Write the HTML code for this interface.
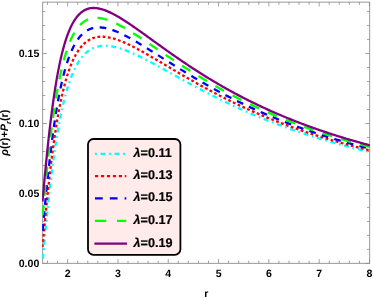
<!DOCTYPE html>
<html><head><meta charset="utf-8"><style>
html,body{margin:0;padding:0;background:#fff;}
svg{display:block;will-change:transform;font-family:"Liberation Sans",sans-serif;font-weight:bold;font-size:10.6px;fill:#000;text-rendering:geometricPrecision;}
</style></head><body>
<svg width="373" height="298" viewBox="0 0 373 298">
<rect width="373" height="298" fill="#fff"/>
<defs><clipPath id="cp"><rect x="42.15" y="1.65" width="327.8" height="262.20000000000005"/></clipPath></defs>
<rect x="88" y="139" width="92.4" height="115.8" rx="5.5" ry="5.5" fill="#ffebea" stroke="#000" stroke-width="1.8"/>
<path d="M95 153.8 H126.3" stroke="#00ffff" stroke-width="2.3" fill="none" stroke-dasharray="1.8 3.65 5 3.65"/>
<text transform="translate(133.5,156.7)" font-size="12.65" stroke="#000" stroke-width="0.2"><tspan font-style="italic">λ</tspan>=0.11</text>
<path d="M95 176.1 H126.3" stroke="#ff0000" stroke-width="2.3" fill="none" stroke-dasharray="3.2 2.75"/>
<text transform="translate(133.5,179.0)" font-size="12.65" stroke="#000" stroke-width="0.2"><tspan font-style="italic">λ</tspan>=0.13</text>
<path d="M95 198.3 H126.3" stroke="#0000ff" stroke-width="2.3" fill="none" stroke-dasharray="7.75 7.05"/>
<text transform="translate(133.5,201.2)" font-size="12.65" stroke="#000" stroke-width="0.2"><tspan font-style="italic">λ</tspan>=0.15</text>
<path d="M95 220.8 H126.3" stroke="#00ff00" stroke-width="2.3" fill="none" stroke-dasharray="11.3 10.7"/>
<text transform="translate(133.5,223.7)" font-size="12.65" stroke="#000" stroke-width="0.2"><tspan font-style="italic">λ</tspan>=0.17</text>
<path d="M94.4 243.6 H127" stroke="#800080" stroke-width="2.3" fill="none"/>
<text transform="translate(133.5,246.5)" font-size="12.65" stroke="#000" stroke-width="0.2"><tspan font-style="italic">λ</tspan>=0.19</text>
<g stroke="#989898" stroke-width="1" fill="none">
<rect x="42.65" y="2.15" width="327.0" height="261.20000000000005"/>
<g stroke-width="0.8" stroke="#8c8c8c">
<path d="M47.50 263.35 v-2.7 M47.50 2.15 v2.7"/>
<path d="M57.56 263.35 v-2.7 M57.56 2.15 v2.7"/>
<path d="M67.62 263.35 v-4.3 M67.62 2.15 v4.3"/>
<path d="M77.69 263.35 v-2.7 M77.69 2.15 v2.7"/>
<path d="M87.75 263.35 v-2.7 M87.75 2.15 v2.7"/>
<path d="M97.81 263.35 v-2.7 M97.81 2.15 v2.7"/>
<path d="M107.87 263.35 v-2.7 M107.87 2.15 v2.7"/>
<path d="M117.94 263.35 v-4.3 M117.94 2.15 v4.3"/>
<path d="M128.00 263.35 v-2.7 M128.00 2.15 v2.7"/>
<path d="M138.06 263.35 v-2.7 M138.06 2.15 v2.7"/>
<path d="M148.12 263.35 v-2.7 M148.12 2.15 v2.7"/>
<path d="M158.18 263.35 v-2.7 M158.18 2.15 v2.7"/>
<path d="M168.25 263.35 v-4.3 M168.25 2.15 v4.3"/>
<path d="M178.31 263.35 v-2.7 M178.31 2.15 v2.7"/>
<path d="M188.37 263.35 v-2.7 M188.37 2.15 v2.7"/>
<path d="M198.43 263.35 v-2.7 M198.43 2.15 v2.7"/>
<path d="M208.49 263.35 v-2.7 M208.49 2.15 v2.7"/>
<path d="M218.56 263.35 v-4.3 M218.56 2.15 v4.3"/>
<path d="M228.62 263.35 v-2.7 M228.62 2.15 v2.7"/>
<path d="M238.68 263.35 v-2.7 M238.68 2.15 v2.7"/>
<path d="M248.74 263.35 v-2.7 M248.74 2.15 v2.7"/>
<path d="M258.80 263.35 v-2.7 M258.80 2.15 v2.7"/>
<path d="M268.87 263.35 v-4.3 M268.87 2.15 v4.3"/>
<path d="M278.93 263.35 v-2.7 M278.93 2.15 v2.7"/>
<path d="M288.99 263.35 v-2.7 M288.99 2.15 v2.7"/>
<path d="M299.05 263.35 v-2.7 M299.05 2.15 v2.7"/>
<path d="M309.11 263.35 v-2.7 M309.11 2.15 v2.7"/>
<path d="M319.18 263.35 v-4.3 M319.18 2.15 v4.3"/>
<path d="M329.24 263.35 v-2.7 M329.24 2.15 v2.7"/>
<path d="M339.30 263.35 v-2.7 M339.30 2.15 v2.7"/>
<path d="M349.36 263.35 v-2.7 M349.36 2.15 v2.7"/>
<path d="M359.42 263.35 v-2.7 M359.42 2.15 v2.7"/>
<path d="M369.49 263.35 v-4.3 M369.49 2.15 v4.3"/>
<path d="M42.65 263.40 h4.3 M369.65 263.40 h-4.3"/>
<path d="M42.65 249.41 h2.7 M369.65 249.41 h-2.7"/>
<path d="M42.65 235.42 h2.7 M369.65 235.42 h-2.7"/>
<path d="M42.65 221.43 h2.7 M369.65 221.43 h-2.7"/>
<path d="M42.65 207.44 h2.7 M369.65 207.44 h-2.7"/>
<path d="M42.65 193.45 h4.3 M369.65 193.45 h-4.3"/>
<path d="M42.65 179.46 h2.7 M369.65 179.46 h-2.7"/>
<path d="M42.65 165.47 h2.7 M369.65 165.47 h-2.7"/>
<path d="M42.65 151.48 h2.7 M369.65 151.48 h-2.7"/>
<path d="M42.65 137.49 h2.7 M369.65 137.49 h-2.7"/>
<path d="M42.65 123.50 h4.3 M369.65 123.50 h-4.3"/>
<path d="M42.65 109.51 h2.7 M369.65 109.51 h-2.7"/>
<path d="M42.65 95.52 h2.7 M369.65 95.52 h-2.7"/>
<path d="M42.65 81.53 h2.7 M369.65 81.53 h-2.7"/>
<path d="M42.65 67.54 h2.7 M369.65 67.54 h-2.7"/>
<path d="M42.65 53.55 h4.3 M369.65 53.55 h-4.3"/>
<path d="M42.65 39.56 h2.7 M369.65 39.56 h-2.7"/>
<path d="M42.65 25.57 h2.7 M369.65 25.57 h-2.7"/>
<path d="M42.65 11.58 h2.7 M369.65 11.58 h-2.7"/>
</g></g>
<text x="67.6" y="277" text-anchor="middle">2</text><text x="117.9" y="277" text-anchor="middle">3</text><text x="168.2" y="277" text-anchor="middle">4</text><text x="218.6" y="277" text-anchor="middle">5</text><text x="268.9" y="277" text-anchor="middle">6</text><text x="319.2" y="277" text-anchor="middle">7</text><text x="369.5" y="277" text-anchor="middle">8</text>
<text x="39.3" y="267.1" text-anchor="end">0.00</text><text x="39.3" y="197.2" text-anchor="end">0.05</text><text x="39.3" y="127.2" text-anchor="end">0.10</text><text x="39.3" y="57.3" text-anchor="end">0.15</text>
<g clip-path="url(#cp)">
<path d="M42.50 262.09 L42.64 260.58 L42.78 259.06 L42.92 257.55 L43.07 256.04 L43.21 254.54 L43.35 253.03 L43.49 251.53 L43.63 250.03 L43.77 248.53 L43.91 247.03 L44.05 245.54 L44.20 244.05 L44.34 242.57 L44.48 241.09 L44.62 239.61 L44.76 238.14 L44.90 236.67 L45.04 235.21 L45.18 233.75 L45.33 232.30 L45.47 230.85 L45.61 229.40 L45.75 227.97 L45.89 226.53 L46.03 225.11 L46.17 223.69 L46.31 222.27 L46.46 220.86 L46.60 219.46 L46.74 218.06 L46.88 216.67 L47.02 215.29 L47.16 213.91 L47.30 212.54 L47.44 211.18 L47.59 209.82 L47.73 208.47 L47.87 207.13 L48.01 205.79 L48.15 204.46 L48.29 203.14 L48.43 201.83 L48.58 200.52 L48.72 199.22 L48.86 197.93 L49.00 196.64 L49.14 195.36 L49.28 194.09 L49.42 192.83 L49.56 191.57 L49.71 190.32 L49.85 189.08 L49.99 187.85 L50.13 186.62 L50.27 185.41 L50.41 184.20 L50.55 182.99 L50.69 181.80 L50.84 180.61 L50.98 179.43 L51.12 178.26 L51.26 177.09 L51.40 175.94 L51.54 174.79 L51.68 173.64 L51.82 172.51 L51.97 171.38 L52.11 170.26 L52.25 169.15 L52.39 168.05 L52.53 166.95 L52.67 165.86 L52.81 164.78 L52.96 163.71 L53.10 162.64 L53.24 161.58 L53.38 160.53 L53.52 159.49 L53.66 158.45 L53.80 157.43 L53.94 156.40 L54.09 155.39 L54.23 154.38 L54.37 153.38 L54.51 152.39 L54.65 151.41 L54.79 150.43 L54.93 149.46 L55.07 148.50 L55.22 147.54 L55.36 146.59 L55.50 145.65 L55.64 144.72 L55.78 143.79 L55.92 142.87 L56.06 141.96 L56.20 141.05 L56.35 140.15 L56.49 139.26 L56.63 138.37 L56.77 137.49 L56.91 136.62 L57.05 135.76 L57.19 134.90 L57.33 134.05 L57.48 133.20 L57.62 132.36 L57.76 131.53 L57.90 130.71 L58.04 129.89 L58.18 129.07 L58.32 128.27 L58.47 127.47 L58.61 126.67 L58.75 125.89 L58.89 125.11 L59.03 124.33 L59.17 123.56 L59.31 122.80 L59.45 122.05 L59.60 121.30 L59.74 120.55 L59.88 119.82 L60.02 119.08 L60.16 118.36 L60.30 117.64 L60.44 116.92 L60.58 116.22 L60.73 115.51 L60.87 114.82 L61.01 114.13 L61.15 113.44 L61.29 112.76 L61.43 112.09 L61.57 111.42 L61.71 110.76 L61.86 110.10 L62.00 109.45 L62.14 108.80 L62.28 108.16 L62.42 107.52 L62.56 106.89 L62.70 106.27 L62.85 105.65 L62.99 105.03 L63.13 104.42 L63.27 103.82 L63.41 103.22 L63.55 102.62 L63.69 102.04 L63.83 101.45 L63.98 100.87 L64.12 100.30 L64.26 99.73 L64.40 99.16 L64.54 98.60 L64.68 98.05 L64.82 97.50 L64.96 96.95 L65.11 96.41 L65.25 95.87 L65.39 95.34 L65.53 94.82 L65.67 94.29 L65.81 93.78 L65.95 93.26 L66.09 92.75 L66.24 92.25 L66.38 91.75 L66.52 91.25 L66.66 90.76 L66.80 90.27 L66.94 89.79 L67.08 89.31 L67.22 88.84 L67.37 88.36 L67.51 87.90 L67.65 87.44 L67.79 86.98 L67.93 86.52 L68.07 86.07 L68.21 85.63 L68.36 85.18 L68.50 84.74 L68.64 84.31 L68.78 83.88 L68.92 83.45 L69.06 83.03 L69.20 82.61 L69.34 82.19 L69.49 81.78 L69.63 81.37 L69.77 80.97 L69.91 80.57 L70.05 80.17 L70.19 79.78 L70.33 79.39 L70.47 79.00 L70.62 78.62 L70.76 78.24 L70.90 77.86 L71.04 77.49 L71.18 77.12 L71.32 76.75 L71.46 76.39 L71.60 76.03 L71.75 75.67 L71.89 75.32 L72.03 74.97 L72.17 74.62 L72.31 74.28 L72.45 73.94 L72.59 73.60 L72.74 73.27 L72.88 72.93 L73.02 72.61 L73.16 72.28 L73.30 71.96 L73.44 71.64 L73.58 71.32 L73.72 71.01 L73.87 70.70 L74.01 70.39 L74.15 70.09 L74.29 69.79 L74.43 69.49 L74.57 69.19 L74.71 68.90 L74.85 68.61 L75.00 68.32 L75.14 68.04 L75.28 67.75 L75.42 67.47 L75.56 67.20 L75.70 66.92 L75.84 66.65 L75.98 66.38 L76.13 66.12 L76.27 65.85 L76.41 65.59 L76.55 65.33 L76.69 65.08 L76.83 64.82 L76.97 64.57 L77.11 64.32 L77.26 64.07 L77.40 63.83 L77.54 63.59 L77.68 63.35 L78.85 61.45 L80.03 59.70 L81.20 58.09 L82.38 56.62 L83.55 55.27 L84.72 54.04 L85.90 52.92 L87.07 51.91 L88.25 50.99 L89.42 50.17 L90.59 49.43 L91.77 48.77 L92.94 48.19 L94.12 47.68 L95.29 47.24 L96.46 46.86 L97.64 46.54 L98.81 46.28 L99.99 46.07 L101.16 45.91 L102.33 45.80 L103.51 45.74 L104.68 45.71 L105.86 45.73 L107.03 45.79 L108.20 45.88 L109.38 46.00 L110.55 46.16 L111.73 46.35 L112.90 46.56 L114.07 46.80 L115.25 47.07 L116.42 47.36 L117.60 47.68 L118.77 48.01 L119.94 48.37 L121.12 48.75 L122.29 49.14 L123.47 49.55 L124.64 49.98 L125.81 50.42 L126.99 50.88 L128.16 51.35 L129.33 51.84 L130.51 52.34 L131.68 52.85 L132.86 53.37 L134.03 53.90 L135.20 54.43 L136.38 54.98 L137.55 55.54 L138.73 56.11 L139.90 56.68 L141.07 57.26 L142.25 57.85 L143.42 58.44 L144.60 59.04 L145.77 59.64 L146.94 60.25 L148.12 60.87 L149.29 61.48 L150.47 62.11 L151.64 62.73 L152.81 63.36 L153.99 63.99 L155.16 64.63 L156.34 65.27 L157.51 65.91 L158.68 66.55 L159.86 67.19 L161.03 67.84 L162.21 68.49 L163.38 69.13 L164.55 69.78 L165.73 70.43 L166.90 71.09 L168.08 71.74 L169.25 72.39 L170.42 73.04 L171.60 73.69 L172.77 74.34 L173.95 75.00 L175.12 75.65 L176.29 76.30 L177.47 76.95 L178.64 77.60 L179.82 78.24 L180.99 78.89 L182.16 79.54 L183.34 80.18 L184.51 80.83 L185.69 81.47 L186.86 82.11 L188.03 82.75 L189.21 83.39 L190.38 84.02 L191.56 84.66 L192.73 85.29 L193.90 85.92 L195.08 86.55 L196.25 87.18 L197.43 87.80 L198.60 88.43 L199.77 89.05 L200.95 89.67 L202.12 90.28 L203.30 90.90 L204.47 91.51 L205.64 92.12 L206.82 92.72 L207.99 93.33 L209.17 93.93 L210.34 94.53 L211.51 95.13 L212.69 95.72 L213.86 96.31 L215.04 96.90 L216.21 97.49 L217.38 98.08 L218.56 98.66 L219.73 99.24 L220.91 99.81 L222.08 100.39 L223.25 100.96 L224.43 101.52 L225.60 102.09 L226.77 102.65 L227.95 103.21 L229.12 103.77 L230.30 104.32 L231.47 104.87 L232.64 105.42 L233.82 105.97 L234.99 106.51 L236.17 107.05 L237.34 107.59 L238.51 108.12 L239.69 108.66 L240.86 109.18 L242.04 109.71 L243.21 110.23 L244.38 110.75 L245.56 111.27 L246.73 111.79 L247.91 112.30 L249.08 112.81 L250.25 113.31 L251.43 113.82 L252.60 114.32 L253.78 114.82 L254.95 115.31 L256.12 115.80 L257.30 116.29 L258.47 116.78 L259.65 117.27 L260.82 117.75 L261.99 118.23 L263.17 118.70 L264.34 119.17 L265.52 119.65 L266.69 120.11 L267.86 120.58 L269.04 121.04 L270.21 121.50 L271.39 121.96 L272.56 122.41 L273.73 122.86 L274.91 123.31 L276.08 123.76 L277.26 124.20 L278.43 124.64 L279.60 125.08 L280.78 125.52 L281.95 125.95 L283.13 126.38 L284.30 126.81 L285.47 127.24 L286.65 127.66 L287.82 128.08 L289.00 128.50 L290.17 128.92 L291.34 129.33 L292.52 129.74 L293.69 130.15 L294.87 130.55 L296.04 130.96 L297.21 131.36 L298.39 131.76 L299.56 132.15 L300.74 132.55 L301.91 132.94 L303.08 133.33 L304.26 133.71 L305.43 134.10 L306.61 134.48 L307.78 134.86 L308.95 135.24 L310.13 135.61 L311.30 135.99 L312.48 136.36 L313.65 136.73 L314.82 137.09 L316.00 137.46 L317.17 137.82 L318.35 138.18 L319.52 138.54 L320.69 138.89 L321.87 139.24 L323.04 139.60 L324.21 139.94 L325.39 140.29 L326.56 140.64 L327.74 140.98 L328.91 141.32 L330.08 141.66 L331.26 141.99 L332.43 142.33 L333.61 142.66 L334.78 142.99 L335.95 143.32 L337.13 143.65 L338.30 143.97 L339.48 144.29 L340.65 144.61 L341.82 144.93 L343.00 145.25 L344.17 145.56 L345.35 145.88 L346.52 146.19 L347.69 146.50 L348.87 146.81 L350.04 147.11 L351.22 147.41 L352.39 147.72 L353.56 148.02 L354.74 148.31 L355.91 148.61 L357.09 148.91 L358.26 149.20 L359.43 149.49 L360.61 149.78 L361.78 150.07 L362.96 150.35 L364.13 150.64 L365.30 150.92 L366.48 151.20 L367.65 151.48 L368.83 151.76 L370.00 152.03" fill="none" stroke="#00ffff" stroke-width="2.3" stroke-dasharray="5 3.705 1.7 3.705" stroke-dashoffset="-3.52"/>
<path d="M42.50 246.98 L42.64 245.44 L42.78 243.91 L42.92 242.38 L43.07 240.85 L43.21 239.33 L43.35 237.80 L43.49 236.29 L43.63 234.77 L43.77 233.26 L43.91 231.75 L44.05 230.24 L44.20 228.74 L44.34 227.25 L44.48 225.75 L44.62 224.27 L44.76 222.79 L44.90 221.31 L45.04 219.84 L45.18 218.37 L45.33 216.91 L45.47 215.46 L45.61 214.01 L45.75 212.57 L45.89 211.13 L46.03 209.70 L46.17 208.27 L46.31 206.86 L46.46 205.45 L46.60 204.04 L46.74 202.64 L46.88 201.25 L47.02 199.87 L47.16 198.49 L47.30 197.12 L47.44 195.76 L47.59 194.41 L47.73 193.06 L47.87 191.72 L48.01 190.39 L48.15 189.06 L48.29 187.74 L48.43 186.43 L48.58 185.13 L48.72 183.83 L48.86 182.55 L49.00 181.27 L49.14 180.00 L49.28 178.73 L49.42 177.47 L49.56 176.23 L49.71 174.99 L49.85 173.75 L49.99 172.53 L50.13 171.31 L50.27 170.10 L50.41 168.90 L50.55 167.71 L50.69 166.52 L50.84 165.34 L50.98 164.17 L51.12 163.01 L51.26 161.86 L51.40 160.71 L51.54 159.57 L51.68 158.44 L51.82 157.32 L51.97 156.20 L52.11 155.10 L52.25 154.00 L52.39 152.91 L52.53 151.82 L52.67 150.75 L52.81 149.68 L52.96 148.62 L53.10 147.57 L53.24 146.52 L53.38 145.48 L53.52 144.45 L53.66 143.43 L53.80 142.42 L53.94 141.41 L54.09 140.41 L54.23 139.42 L54.37 138.44 L54.51 137.46 L54.65 136.49 L54.79 135.53 L54.93 134.57 L55.07 133.63 L55.22 132.69 L55.36 131.75 L55.50 130.83 L55.64 129.91 L55.78 129.00 L55.92 128.10 L56.06 127.20 L56.20 126.31 L56.35 125.43 L56.49 124.55 L56.63 123.68 L56.77 122.82 L56.91 121.97 L57.05 121.12 L57.19 120.28 L57.33 119.44 L57.48 118.61 L57.62 117.79 L57.76 116.98 L57.90 116.17 L58.04 115.37 L58.18 114.58 L58.32 113.79 L58.47 113.01 L58.61 112.23 L58.75 111.46 L58.89 110.70 L59.03 109.94 L59.17 109.19 L59.31 108.45 L59.45 107.71 L59.60 106.98 L59.74 106.26 L59.88 105.54 L60.02 104.82 L60.16 104.12 L60.30 103.42 L60.44 102.72 L60.58 102.03 L60.73 101.35 L60.87 100.67 L61.01 100.00 L61.15 99.33 L61.29 98.67 L61.43 98.02 L61.57 97.37 L61.71 96.72 L61.86 96.09 L62.00 95.45 L62.14 94.83 L62.28 94.20 L62.42 93.59 L62.56 92.98 L62.70 92.37 L62.85 91.77 L62.99 91.17 L63.13 90.58 L63.27 90.00 L63.41 89.42 L63.55 88.84 L63.69 88.27 L63.83 87.71 L63.98 87.15 L64.12 86.60 L64.26 86.05 L64.40 85.50 L64.54 84.96 L64.68 84.42 L64.82 83.89 L64.96 83.37 L65.11 82.85 L65.25 82.33 L65.39 81.82 L65.53 81.31 L65.67 80.81 L65.81 80.31 L65.95 79.81 L66.09 79.33 L66.24 78.84 L66.38 78.36 L66.52 77.88 L66.66 77.41 L66.80 76.94 L66.94 76.48 L67.08 76.02 L67.22 75.57 L67.37 75.11 L67.51 74.67 L67.65 74.22 L67.79 73.79 L67.93 73.35 L68.07 72.92 L68.21 72.49 L68.36 72.07 L68.50 71.65 L68.64 71.24 L68.78 70.83 L68.92 70.42 L69.06 70.01 L69.20 69.61 L69.34 69.22 L69.49 68.83 L69.63 68.44 L69.77 68.05 L69.91 67.67 L70.05 67.29 L70.19 66.92 L70.33 66.55 L70.47 66.18 L70.62 65.81 L70.76 65.45 L70.90 65.10 L71.04 64.74 L71.18 64.39 L71.32 64.05 L71.46 63.70 L71.60 63.36 L71.75 63.02 L71.89 62.69 L72.03 62.36 L72.17 62.03 L72.31 61.71 L72.45 61.39 L72.59 61.07 L72.74 60.75 L72.88 60.44 L73.02 60.13 L73.16 59.83 L73.30 59.52 L73.44 59.22 L73.58 58.93 L73.72 58.63 L73.87 58.34 L74.01 58.05 L74.15 57.77 L74.29 57.48 L74.43 57.20 L74.57 56.93 L74.71 56.65 L74.85 56.38 L75.00 56.11 L75.14 55.85 L75.28 55.58 L75.42 55.32 L75.56 55.06 L75.70 54.81 L75.84 54.56 L75.98 54.30 L76.13 54.06 L76.27 53.81 L76.41 53.57 L76.55 53.33 L76.69 53.09 L76.83 52.85 L76.97 52.62 L77.11 52.39 L77.26 52.16 L77.40 51.94 L77.54 51.71 L77.68 51.49 L78.85 49.74 L80.03 48.14 L81.20 46.68 L82.38 45.36 L83.55 44.15 L84.72 43.06 L85.90 42.09 L87.07 41.21 L88.25 40.43 L89.42 39.73 L90.59 39.12 L91.77 38.59 L92.94 38.14 L94.12 37.75 L95.29 37.44 L96.46 37.18 L97.64 36.98 L98.81 36.83 L99.99 36.74 L101.16 36.70 L102.33 36.70 L103.51 36.74 L104.68 36.83 L105.86 36.95 L107.03 37.11 L108.20 37.30 L109.38 37.52 L110.55 37.78 L111.73 38.06 L112.90 38.37 L114.07 38.71 L115.25 39.07 L116.42 39.45 L117.60 39.86 L118.77 40.28 L119.94 40.72 L121.12 41.19 L122.29 41.66 L123.47 42.16 L124.64 42.67 L125.81 43.19 L126.99 43.72 L128.16 44.27 L129.33 44.83 L130.51 45.41 L131.68 45.99 L132.86 46.58 L134.03 47.18 L135.20 47.79 L136.38 48.41 L137.55 49.03 L138.73 49.66 L139.90 50.30 L141.07 50.95 L142.25 51.59 L143.42 52.25 L144.60 52.91 L145.77 53.57 L146.94 54.24 L148.12 54.92 L149.29 55.59 L150.47 56.27 L151.64 56.95 L152.81 57.64 L153.99 58.32 L155.16 59.01 L156.34 59.70 L157.51 60.39 L158.68 61.09 L159.86 61.78 L161.03 62.48 L162.21 63.17 L163.38 63.87 L164.55 64.56 L165.73 65.26 L166.90 65.96 L168.08 66.65 L169.25 67.35 L170.42 68.05 L171.60 68.74 L172.77 69.44 L173.95 70.13 L175.12 70.82 L176.29 71.51 L177.47 72.20 L178.64 72.89 L179.82 73.58 L180.99 74.27 L182.16 74.95 L183.34 75.63 L184.51 76.32 L185.69 76.99 L186.86 77.67 L188.03 78.35 L189.21 79.02 L190.38 79.69 L191.56 80.36 L192.73 81.03 L193.90 81.69 L195.08 82.35 L196.25 83.01 L197.43 83.67 L198.60 84.33 L199.77 84.98 L200.95 85.63 L202.12 86.27 L203.30 86.92 L204.47 87.56 L205.64 88.20 L206.82 88.84 L207.99 89.47 L209.17 90.10 L210.34 90.73 L211.51 91.35 L212.69 91.97 L213.86 92.59 L215.04 93.21 L216.21 93.82 L217.38 94.43 L218.56 95.04 L219.73 95.65 L220.91 96.25 L222.08 96.85 L223.25 97.44 L224.43 98.03 L225.60 98.62 L226.77 99.21 L227.95 99.79 L229.12 100.37 L230.30 100.95 L231.47 101.53 L232.64 102.10 L233.82 102.67 L234.99 103.23 L236.17 103.79 L237.34 104.35 L238.51 104.91 L239.69 105.46 L240.86 106.01 L242.04 106.56 L243.21 107.10 L244.38 107.64 L245.56 108.18 L246.73 108.72 L247.91 109.25 L249.08 109.78 L250.25 110.30 L251.43 110.83 L252.60 111.35 L253.78 111.86 L254.95 112.38 L256.12 112.89 L257.30 113.40 L258.47 113.90 L259.65 114.40 L260.82 114.90 L261.99 115.40 L263.17 115.89 L264.34 116.38 L265.52 116.87 L266.69 117.36 L267.86 117.84 L269.04 118.32 L270.21 118.79 L271.39 119.27 L272.56 119.74 L273.73 120.21 L274.91 120.67 L276.08 121.13 L277.26 121.59 L278.43 122.05 L279.60 122.51 L280.78 122.96 L281.95 123.41 L283.13 123.85 L284.30 124.30 L285.47 124.74 L286.65 125.17 L287.82 125.61 L289.00 126.04 L290.17 126.47 L291.34 126.90 L292.52 127.32 L293.69 127.75 L294.87 128.17 L296.04 128.58 L297.21 129.00 L298.39 129.41 L299.56 129.82 L300.74 130.23 L301.91 130.63 L303.08 131.04 L304.26 131.44 L305.43 131.83 L306.61 132.23 L307.78 132.62 L308.95 133.01 L310.13 133.40 L311.30 133.79 L312.48 134.17 L313.65 134.55 L314.82 134.93 L316.00 135.30 L317.17 135.68 L318.35 136.05 L319.52 136.42 L320.69 136.79 L321.87 137.15 L323.04 137.52 L324.21 137.88 L325.39 138.23 L326.56 138.59 L327.74 138.94 L328.91 139.30 L330.08 139.65 L331.26 139.99 L332.43 140.34 L333.61 140.68 L334.78 141.02 L335.95 141.36 L337.13 141.70 L338.30 142.04 L339.48 142.37 L340.65 142.70 L341.82 143.03 L343.00 143.36 L344.17 143.68 L345.35 144.01 L346.52 144.33 L347.69 144.65 L348.87 144.96 L350.04 145.28 L351.22 145.59 L352.39 145.90 L353.56 146.21 L354.74 146.52 L355.91 146.83 L357.09 147.13 L358.26 147.44 L359.43 147.74 L360.61 148.04 L361.78 148.33 L362.96 148.63 L364.13 148.92 L365.30 149.21 L366.48 149.50 L367.65 149.79 L368.83 150.08 L370.00 150.36" fill="none" stroke="#ff0000" stroke-width="2.3" stroke-dasharray="2.8 2.436" stroke-dashoffset="0.1"/>
<path d="M42.50 231.87 L42.64 230.31 L42.78 228.76 L42.92 227.21 L43.07 225.66 L43.21 224.12 L43.35 222.58 L43.49 221.04 L43.63 219.51 L43.77 217.98 L43.91 216.46 L44.05 214.94 L44.20 213.43 L44.34 211.92 L44.48 210.42 L44.62 208.92 L44.76 207.43 L44.90 205.95 L45.04 204.47 L45.18 202.99 L45.33 201.53 L45.47 200.07 L45.61 198.61 L45.75 197.16 L45.89 195.72 L46.03 194.29 L46.17 192.86 L46.31 191.44 L46.46 190.03 L46.60 188.62 L46.74 187.23 L46.88 185.83 L47.02 184.45 L47.16 183.07 L47.30 181.71 L47.44 180.35 L47.59 178.99 L47.73 177.65 L47.87 176.31 L48.01 174.98 L48.15 173.66 L48.29 172.34 L48.43 171.04 L48.58 169.74 L48.72 168.45 L48.86 167.17 L49.00 165.89 L49.14 164.63 L49.28 163.37 L49.42 162.12 L49.56 160.88 L49.71 159.65 L49.85 158.42 L49.99 157.20 L50.13 155.99 L50.27 154.79 L50.41 153.60 L50.55 152.42 L50.69 151.24 L50.84 150.07 L50.98 148.91 L51.12 147.76 L51.26 146.62 L51.40 145.48 L51.54 144.36 L51.68 143.24 L51.82 142.13 L51.97 141.02 L52.11 139.93 L52.25 138.84 L52.39 137.76 L52.53 136.69 L52.67 135.63 L52.81 134.57 L52.96 133.53 L53.10 132.49 L53.24 131.46 L53.38 130.43 L53.52 129.42 L53.66 128.41 L53.80 127.41 L53.94 126.42 L54.09 125.43 L54.23 124.46 L54.37 123.49 L54.51 122.53 L54.65 121.57 L54.79 120.63 L54.93 119.69 L55.07 118.76 L55.22 117.83 L55.36 116.92 L55.50 116.01 L55.64 115.10 L55.78 114.21 L55.92 113.32 L56.06 112.44 L56.20 111.57 L56.35 110.70 L56.49 109.84 L56.63 108.99 L56.77 108.15 L56.91 107.31 L57.05 106.48 L57.19 105.66 L57.33 104.84 L57.48 104.03 L57.62 103.22 L57.76 102.43 L57.90 101.64 L58.04 100.85 L58.18 100.08 L58.32 99.31 L58.47 98.54 L58.61 97.79 L58.75 97.04 L58.89 96.29 L59.03 95.55 L59.17 94.82 L59.31 94.10 L59.45 93.38 L59.60 92.67 L59.74 91.96 L59.88 91.26 L60.02 90.56 L60.16 89.88 L60.30 89.19 L60.44 88.52 L60.58 87.85 L60.73 87.18 L60.87 86.52 L61.01 85.87 L61.15 85.22 L61.29 84.58 L61.43 83.95 L61.57 83.32 L61.71 82.69 L61.86 82.07 L62.00 81.46 L62.14 80.85 L62.28 80.25 L62.42 79.65 L62.56 79.06 L62.70 78.47 L62.85 77.89 L62.99 77.32 L63.13 76.75 L63.27 76.18 L63.41 75.62 L63.55 75.06 L63.69 74.51 L63.83 73.97 L63.98 73.43 L64.12 72.89 L64.26 72.36 L64.40 71.84 L64.54 71.32 L64.68 70.80 L64.82 70.29 L64.96 69.78 L65.11 69.28 L65.25 68.78 L65.39 68.29 L65.53 67.80 L65.67 67.32 L65.81 66.84 L65.95 66.37 L66.09 65.90 L66.24 65.43 L66.38 64.97 L66.52 64.52 L66.66 64.06 L66.80 63.61 L66.94 63.17 L67.08 62.73 L67.22 62.30 L67.37 61.86 L67.51 61.44 L67.65 61.01 L67.79 60.59 L67.93 60.18 L68.07 59.77 L68.21 59.36 L68.36 58.96 L68.50 58.56 L68.64 58.16 L68.78 57.77 L68.92 57.38 L69.06 57.00 L69.20 56.62 L69.34 56.24 L69.49 55.87 L69.63 55.50 L69.77 55.13 L69.91 54.77 L70.05 54.41 L70.19 54.06 L70.33 53.71 L70.47 53.36 L70.62 53.01 L70.76 52.67 L70.90 52.34 L71.04 52.00 L71.18 51.67 L71.32 51.34 L71.46 51.02 L71.60 50.70 L71.75 50.38 L71.89 50.06 L72.03 49.75 L72.17 49.44 L72.31 49.14 L72.45 48.84 L72.59 48.54 L72.74 48.24 L72.88 47.95 L73.02 47.66 L73.16 47.37 L73.30 47.09 L73.44 46.81 L73.58 46.53 L73.72 46.25 L73.87 45.98 L74.01 45.71 L74.15 45.45 L74.29 45.18 L74.43 44.92 L74.57 44.66 L74.71 44.41 L74.85 44.15 L75.00 43.90 L75.14 43.66 L75.28 43.41 L75.42 43.17 L75.56 42.93 L75.70 42.69 L75.84 42.46 L75.98 42.23 L76.13 42.00 L76.27 41.77 L76.41 41.55 L76.55 41.32 L76.69 41.11 L76.83 40.89 L76.97 40.67 L77.11 40.46 L77.26 40.25 L77.40 40.04 L77.54 39.84 L77.68 39.64 L78.85 38.04 L80.03 36.59 L81.20 35.28 L82.38 34.09 L83.55 33.03 L84.72 32.09 L85.90 31.25 L87.07 30.50 L88.25 29.86 L89.42 29.30 L90.59 28.82 L91.77 28.42 L92.94 28.09 L94.12 27.83 L95.29 27.63 L96.46 27.50 L97.64 27.42 L98.81 27.39 L99.99 27.41 L101.16 27.48 L102.33 27.59 L103.51 27.74 L104.68 27.94 L105.86 28.16 L107.03 28.43 L108.20 28.72 L109.38 29.05 L110.55 29.40 L111.73 29.78 L112.90 30.19 L114.07 30.62 L115.25 31.07 L116.42 31.54 L117.60 32.04 L118.77 32.55 L119.94 33.08 L121.12 33.62 L122.29 34.19 L123.47 34.76 L124.64 35.35 L125.81 35.95 L126.99 36.57 L128.16 37.19 L129.33 37.83 L130.51 38.47 L131.68 39.13 L132.86 39.79 L134.03 40.46 L135.20 41.14 L136.38 41.83 L137.55 42.52 L138.73 43.22 L139.90 43.92 L141.07 44.63 L142.25 45.34 L143.42 46.06 L144.60 46.78 L145.77 47.51 L146.94 48.23 L148.12 48.97 L149.29 49.70 L150.47 50.43 L151.64 51.17 L152.81 51.91 L153.99 52.65 L155.16 53.39 L156.34 54.14 L157.51 54.88 L158.68 55.62 L159.86 56.37 L161.03 57.11 L162.21 57.86 L163.38 58.60 L164.55 59.34 L165.73 60.09 L166.90 60.83 L168.08 61.57 L169.25 62.31 L170.42 63.05 L171.60 63.79 L172.77 64.53 L173.95 65.26 L175.12 66.00 L176.29 66.73 L177.47 67.46 L178.64 68.19 L179.82 68.92 L180.99 69.64 L182.16 70.37 L183.34 71.09 L184.51 71.80 L185.69 72.52 L186.86 73.23 L188.03 73.94 L189.21 74.65 L190.38 75.36 L191.56 76.06 L192.73 76.76 L193.90 77.46 L195.08 78.16 L196.25 78.85 L197.43 79.54 L198.60 80.22 L199.77 80.91 L200.95 81.59 L202.12 82.27 L203.30 82.94 L204.47 83.61 L205.64 84.28 L206.82 84.95 L207.99 85.61 L209.17 86.27 L210.34 86.92 L211.51 87.58 L212.69 88.23 L213.86 88.87 L215.04 89.52 L216.21 90.16 L217.38 90.79 L218.56 91.43 L219.73 92.06 L220.91 92.68 L222.08 93.31 L223.25 93.93 L224.43 94.55 L225.60 95.16 L226.77 95.77 L227.95 96.38 L229.12 96.98 L230.30 97.58 L231.47 98.18 L232.64 98.77 L233.82 99.36 L234.99 99.95 L236.17 100.54 L237.34 101.12 L238.51 101.69 L239.69 102.27 L240.86 102.84 L242.04 103.41 L243.21 103.97 L244.38 104.53 L245.56 105.09 L246.73 105.65 L247.91 106.20 L249.08 106.75 L250.25 107.29 L251.43 107.84 L252.60 108.37 L253.78 108.91 L254.95 109.44 L256.12 109.97 L257.30 110.50 L258.47 111.02 L259.65 111.54 L260.82 112.06 L261.99 112.58 L263.17 113.09 L264.34 113.59 L265.52 114.10 L266.69 114.60 L267.86 115.10 L269.04 115.60 L270.21 116.09 L271.39 116.58 L272.56 117.07 L273.73 117.55 L274.91 118.03 L276.08 118.51 L277.26 118.99 L278.43 119.46 L279.60 119.93 L280.78 120.40 L281.95 120.86 L283.13 121.32 L284.30 121.78 L285.47 122.23 L286.65 122.69 L287.82 123.14 L289.00 123.58 L290.17 124.03 L291.34 124.47 L292.52 124.91 L293.69 125.35 L294.87 125.78 L296.04 126.21 L297.21 126.64 L298.39 127.07 L299.56 127.49 L300.74 127.91 L301.91 128.33 L303.08 128.74 L304.26 129.16 L305.43 129.57 L306.61 129.98 L307.78 130.38 L308.95 130.79 L310.13 131.19 L311.30 131.58 L312.48 131.98 L313.65 132.37 L314.82 132.76 L316.00 133.15 L317.17 133.54 L318.35 133.92 L319.52 134.30 L320.69 134.68 L321.87 135.06 L323.04 135.43 L324.21 135.81 L325.39 136.18 L326.56 136.54 L327.74 136.91 L328.91 137.27 L330.08 137.63 L331.26 137.99 L332.43 138.35 L333.61 138.70 L334.78 139.06 L335.95 139.41 L337.13 139.76 L338.30 140.10 L339.48 140.45 L340.65 140.79 L341.82 141.13 L343.00 141.46 L344.17 141.80 L345.35 142.13 L346.52 142.47 L347.69 142.80 L348.87 143.12 L350.04 143.45 L351.22 143.77 L352.39 144.09 L353.56 144.41 L354.74 144.73 L355.91 145.05 L357.09 145.36 L358.26 145.67 L359.43 145.98 L360.61 146.29 L361.78 146.60 L362.96 146.90 L364.13 147.21 L365.30 147.51 L366.48 147.81 L367.65 148.11 L368.83 148.40 L370.00 148.69" fill="none" stroke="#0000ff" stroke-width="2.3" stroke-dasharray="6.70 6.36" stroke-dashoffset="-0.98"/>
<path d="M42.50 216.76 L42.64 215.18 L42.78 213.61 L42.92 212.04 L43.07 210.47 L43.21 208.91 L43.35 207.35 L43.49 205.80 L43.63 204.25 L43.77 202.71 L43.91 201.17 L44.05 199.64 L44.20 198.12 L44.34 196.60 L44.48 195.09 L44.62 193.58 L44.76 192.08 L44.90 190.58 L45.04 189.10 L45.18 187.62 L45.33 186.14 L45.47 184.67 L45.61 183.22 L45.75 181.76 L45.89 180.32 L46.03 178.88 L46.17 177.45 L46.31 176.03 L46.46 174.61 L46.60 173.21 L46.74 171.81 L46.88 170.41 L47.02 169.03 L47.16 167.66 L47.30 166.29 L47.44 164.93 L47.59 163.58 L47.73 162.23 L47.87 160.90 L48.01 159.57 L48.15 158.25 L48.29 156.94 L48.43 155.64 L48.58 154.35 L48.72 153.06 L48.86 151.79 L49.00 150.52 L49.14 149.26 L49.28 148.01 L49.42 146.77 L49.56 145.53 L49.71 144.31 L49.85 143.09 L49.99 141.88 L50.13 140.68 L50.27 139.49 L50.41 138.30 L50.55 137.13 L50.69 135.96 L50.84 134.81 L50.98 133.66 L51.12 132.51 L51.26 131.38 L51.40 130.26 L51.54 129.14 L51.68 128.03 L51.82 126.93 L51.97 125.84 L52.11 124.76 L52.25 123.69 L52.39 122.62 L52.53 121.56 L52.67 120.51 L52.81 119.47 L52.96 118.44 L53.10 117.41 L53.24 116.39 L53.38 115.38 L53.52 114.38 L53.66 113.39 L53.80 112.40 L53.94 111.43 L54.09 110.46 L54.23 109.49 L54.37 108.54 L54.51 107.59 L54.65 106.65 L54.79 105.72 L54.93 104.80 L55.07 103.88 L55.22 102.98 L55.36 102.08 L55.50 101.18 L55.64 100.30 L55.78 99.42 L55.92 98.55 L56.06 97.68 L56.20 96.83 L56.35 95.98 L56.49 95.14 L56.63 94.30 L56.77 93.47 L56.91 92.65 L57.05 91.84 L57.19 91.03 L57.33 90.23 L57.48 89.44 L57.62 88.66 L57.76 87.88 L57.90 87.10 L58.04 86.34 L58.18 85.58 L58.32 84.83 L58.47 84.08 L58.61 83.34 L58.75 82.61 L58.89 81.89 L59.03 81.17 L59.17 80.45 L59.31 79.75 L59.45 79.05 L59.60 78.35 L59.74 77.66 L59.88 76.98 L60.02 76.31 L60.16 75.64 L60.30 74.97 L60.44 74.31 L60.58 73.66 L60.73 73.02 L60.87 72.38 L61.01 71.74 L61.15 71.12 L61.29 70.49 L61.43 69.88 L61.57 69.27 L61.71 68.66 L61.86 68.06 L62.00 67.47 L62.14 66.88 L62.28 66.29 L62.42 65.72 L62.56 65.14 L62.70 64.58 L62.85 64.02 L62.99 63.46 L63.13 62.91 L63.27 62.36 L63.41 61.82 L63.55 61.28 L63.69 60.75 L63.83 60.23 L63.98 59.71 L64.12 59.19 L64.26 58.68 L64.40 58.18 L64.54 57.67 L64.68 57.18 L64.82 56.69 L64.96 56.20 L65.11 55.72 L65.25 55.24 L65.39 54.77 L65.53 54.30 L65.67 53.84 L65.81 53.38 L65.95 52.92 L66.09 52.47 L66.24 52.03 L66.38 51.58 L66.52 51.15 L66.66 50.71 L66.80 50.29 L66.94 49.86 L67.08 49.44 L67.22 49.03 L67.37 48.61 L67.51 48.21 L67.65 47.80 L67.79 47.40 L67.93 47.01 L68.07 46.62 L68.21 46.23 L68.36 45.84 L68.50 45.46 L68.64 45.09 L68.78 44.72 L68.92 44.35 L69.06 43.98 L69.20 43.62 L69.34 43.27 L69.49 42.91 L69.63 42.56 L69.77 42.22 L69.91 41.87 L70.05 41.53 L70.19 41.20 L70.33 40.87 L70.47 40.54 L70.62 40.21 L70.76 39.89 L70.90 39.57 L71.04 39.26 L71.18 38.95 L71.32 38.64 L71.46 38.33 L71.60 38.03 L71.75 37.73 L71.89 37.44 L72.03 37.14 L72.17 36.86 L72.31 36.57 L72.45 36.29 L72.59 36.01 L72.74 35.73 L72.88 35.46 L73.02 35.19 L73.16 34.92 L73.30 34.65 L73.44 34.39 L73.58 34.13 L73.72 33.88 L73.87 33.62 L74.01 33.37 L74.15 33.12 L74.29 32.88 L74.43 32.64 L74.57 32.40 L74.71 32.16 L74.85 31.93 L75.00 31.70 L75.14 31.47 L75.28 31.24 L75.42 31.02 L75.56 30.80 L75.70 30.58 L75.84 30.36 L75.98 30.15 L76.13 29.94 L76.27 29.73 L76.41 29.52 L76.55 29.32 L76.69 29.12 L76.83 28.92 L76.97 28.73 L77.11 28.53 L77.26 28.34 L77.40 28.15 L77.54 27.96 L77.68 27.78 L78.85 26.33 L80.03 25.03 L81.20 23.87 L82.38 22.83 L83.55 21.91 L84.72 21.11 L85.90 20.41 L87.07 19.80 L88.25 19.29 L89.42 18.86 L90.59 18.52 L91.77 18.24 L92.94 18.04 L94.12 17.91 L95.29 17.83 L96.46 17.82 L97.64 17.85 L98.81 17.94 L99.99 18.08 L101.16 18.26 L102.33 18.48 L103.51 18.75 L104.68 19.05 L105.86 19.38 L107.03 19.75 L108.20 20.14 L109.38 20.57 L110.55 21.02 L111.73 21.50 L112.90 22.00 L114.07 22.53 L115.25 23.07 L116.42 23.63 L117.60 24.22 L118.77 24.82 L119.94 25.43 L121.12 26.06 L122.29 26.71 L123.47 27.37 L124.64 28.04 L125.81 28.72 L126.99 29.41 L128.16 30.11 L129.33 30.82 L130.51 31.54 L131.68 32.27 L132.86 33.01 L134.03 33.75 L135.20 34.50 L136.38 35.25 L137.55 36.01 L138.73 36.77 L139.90 37.54 L141.07 38.32 L142.25 39.09 L143.42 39.87 L144.60 40.65 L145.77 41.44 L146.94 42.23 L148.12 43.02 L149.29 43.81 L150.47 44.60 L151.64 45.39 L152.81 46.19 L153.99 46.98 L155.16 47.77 L156.34 48.57 L157.51 49.37 L158.68 50.16 L159.86 50.95 L161.03 51.75 L162.21 52.54 L163.38 53.33 L164.55 54.12 L165.73 54.91 L166.90 55.70 L168.08 56.49 L169.25 57.28 L170.42 58.06 L171.60 58.84 L172.77 59.62 L173.95 60.40 L175.12 61.17 L176.29 61.95 L177.47 62.72 L178.64 63.49 L179.82 64.25 L180.99 65.02 L182.16 65.78 L183.34 66.54 L184.51 67.29 L185.69 68.05 L186.86 68.79 L188.03 69.54 L189.21 70.29 L190.38 71.03 L191.56 71.76 L192.73 72.50 L193.90 73.23 L195.08 73.96 L196.25 74.68 L197.43 75.41 L198.60 76.12 L199.77 76.84 L200.95 77.55 L202.12 78.26 L203.30 78.96 L204.47 79.67 L205.64 80.36 L206.82 81.06 L207.99 81.75 L209.17 82.44 L210.34 83.12 L211.51 83.80 L212.69 84.48 L213.86 85.15 L215.04 85.82 L216.21 86.49 L217.38 87.15 L218.56 87.81 L219.73 88.47 L220.91 89.12 L222.08 89.77 L223.25 90.41 L224.43 91.06 L225.60 91.69 L226.77 92.33 L227.95 92.96 L229.12 93.59 L230.30 94.21 L231.47 94.83 L232.64 95.45 L233.82 96.06 L234.99 96.67 L236.17 97.28 L237.34 97.88 L238.51 98.48 L239.69 99.08 L240.86 99.67 L242.04 100.26 L243.21 100.84 L244.38 101.42 L245.56 102.00 L246.73 102.58 L247.91 103.15 L249.08 103.72 L250.25 104.28 L251.43 104.84 L252.60 105.40 L253.78 105.96 L254.95 106.51 L256.12 107.06 L257.30 107.60 L258.47 108.14 L259.65 108.68 L260.82 109.22 L261.99 109.75 L263.17 110.28 L264.34 110.80 L265.52 111.33 L266.69 111.85 L267.86 112.36 L269.04 112.87 L270.21 113.38 L271.39 113.89 L272.56 114.39 L273.73 114.89 L274.91 115.39 L276.08 115.89 L277.26 116.38 L278.43 116.87 L279.60 117.35 L280.78 117.83 L281.95 118.31 L283.13 118.79 L284.30 119.26 L285.47 119.73 L286.65 120.20 L287.82 120.67 L289.00 121.13 L290.17 121.59 L291.34 122.04 L292.52 122.50 L293.69 122.95 L294.87 123.39 L296.04 123.84 L297.21 124.28 L298.39 124.72 L299.56 125.16 L300.74 125.59 L301.91 126.02 L303.08 126.45 L304.26 126.88 L305.43 127.30 L306.61 127.72 L307.78 128.14 L308.95 128.56 L310.13 128.97 L311.30 129.38 L312.48 129.79 L313.65 130.20 L314.82 130.60 L316.00 131.00 L317.17 131.40 L318.35 131.80 L319.52 132.19 L320.69 132.58 L321.87 132.97 L323.04 133.35 L324.21 133.74 L325.39 134.12 L326.56 134.50 L327.74 134.88 L328.91 135.25 L330.08 135.62 L331.26 135.99 L332.43 136.36 L333.61 136.73 L334.78 137.09 L335.95 137.45 L337.13 137.81 L338.30 138.17 L339.48 138.52 L340.65 138.87 L341.82 139.22 L343.00 139.57 L344.17 139.92 L345.35 140.26 L346.52 140.60 L347.69 140.94 L348.87 141.28 L350.04 141.62 L351.22 141.95 L352.39 142.28 L353.56 142.61 L354.74 142.94 L355.91 143.27 L357.09 143.59 L358.26 143.91 L359.43 144.23 L360.61 144.55 L361.78 144.87 L362.96 145.18 L364.13 145.49 L365.30 145.80 L366.48 146.11 L367.65 146.42 L368.83 146.72 L370.00 147.03" fill="none" stroke="#00ff00" stroke-width="2.3" stroke-dasharray="9.90 9.66" stroke-dashoffset="-1.68"/>
<path d="M42.50 201.65 L42.64 200.05 L42.78 198.45 L42.92 196.86 L43.07 195.28 L43.21 193.70 L43.35 192.13 L43.49 190.56 L43.63 188.99 L43.77 187.44 L43.91 185.89 L44.05 184.34 L44.20 182.81 L44.34 181.27 L44.48 179.75 L44.62 178.23 L44.76 176.72 L44.90 175.22 L45.04 173.73 L45.18 172.24 L45.33 170.76 L45.47 169.28 L45.61 167.82 L45.75 166.36 L45.89 164.91 L46.03 163.47 L46.17 162.04 L46.31 160.61 L46.46 159.20 L46.60 157.79 L46.74 156.39 L46.88 154.99 L47.02 153.61 L47.16 152.24 L47.30 150.87 L47.44 149.51 L47.59 148.16 L47.73 146.82 L47.87 145.49 L48.01 144.16 L48.15 142.85 L48.29 141.54 L48.43 140.25 L48.58 138.96 L48.72 137.68 L48.86 136.41 L49.00 135.15 L49.14 133.89 L49.28 132.65 L49.42 131.41 L49.56 130.18 L49.71 128.97 L49.85 127.76 L49.99 126.56 L50.13 125.36 L50.27 124.18 L50.41 123.01 L50.55 121.84 L50.69 120.69 L50.84 119.54 L50.98 118.40 L51.12 117.27 L51.26 116.14 L51.40 115.03 L51.54 113.93 L51.68 112.83 L51.82 111.74 L51.97 110.66 L52.11 109.59 L52.25 108.53 L52.39 107.48 L52.53 106.43 L52.67 105.39 L52.81 104.37 L52.96 103.35 L53.10 102.33 L53.24 101.33 L53.38 100.33 L53.52 99.35 L53.66 98.37 L53.80 97.40 L53.94 96.43 L54.09 95.48 L54.23 94.53 L54.37 93.59 L54.51 92.66 L54.65 91.74 L54.79 90.82 L54.93 89.91 L55.07 89.01 L55.22 88.12 L55.36 87.24 L55.50 86.36 L55.64 85.49 L55.78 84.63 L55.92 83.77 L56.06 82.93 L56.20 82.09 L56.35 81.25 L56.49 80.43 L56.63 79.61 L56.77 78.80 L56.91 78.00 L57.05 77.20 L57.19 76.41 L57.33 75.63 L57.48 74.85 L57.62 74.09 L57.76 73.33 L57.90 72.57 L58.04 71.82 L58.18 71.08 L58.32 70.35 L58.47 69.62 L58.61 68.90 L58.75 68.19 L58.89 67.48 L59.03 66.78 L59.17 66.08 L59.31 65.39 L59.45 64.71 L59.60 64.04 L59.74 63.37 L59.88 62.70 L60.02 62.05 L60.16 61.40 L60.30 60.75 L60.44 60.11 L60.58 59.48 L60.73 58.85 L60.87 58.23 L61.01 57.62 L61.15 57.01 L61.29 56.40 L61.43 55.81 L61.57 55.22 L61.71 54.63 L61.86 54.05 L62.00 53.47 L62.14 52.90 L62.28 52.34 L62.42 51.78 L62.56 51.23 L62.70 50.68 L62.85 50.14 L62.99 49.60 L63.13 49.07 L63.27 48.54 L63.41 48.02 L63.55 47.51 L63.69 46.99 L63.83 46.49 L63.98 45.99 L64.12 45.49 L64.26 45.00 L64.40 44.51 L64.54 44.03 L64.68 43.55 L64.82 43.08 L64.96 42.62 L65.11 42.15 L65.25 41.70 L65.39 41.24 L65.53 40.79 L65.67 40.35 L65.81 39.91 L65.95 39.47 L66.09 39.04 L66.24 38.62 L66.38 38.20 L66.52 37.78 L66.66 37.37 L66.80 36.96 L66.94 36.55 L67.08 36.15 L67.22 35.76 L67.37 35.36 L67.51 34.98 L67.65 34.59 L67.79 34.21 L67.93 33.84 L68.07 33.46 L68.21 33.10 L68.36 32.73 L68.50 32.37 L68.64 32.01 L68.78 31.66 L68.92 31.31 L69.06 30.97 L69.20 30.63 L69.34 30.29 L69.49 29.96 L69.63 29.63 L69.77 29.30 L69.91 28.98 L70.05 28.66 L70.19 28.34 L70.33 28.03 L70.47 27.72 L70.62 27.41 L70.76 27.11 L70.90 26.81 L71.04 26.52 L71.18 26.22 L71.32 25.93 L71.46 25.65 L71.60 25.37 L71.75 25.09 L71.89 24.81 L72.03 24.54 L72.17 24.27 L72.31 24.00 L72.45 23.74 L72.59 23.48 L72.74 23.22 L72.88 22.96 L73.02 22.71 L73.16 22.46 L73.30 22.22 L73.44 21.97 L73.58 21.73 L73.72 21.50 L73.87 21.26 L74.01 21.03 L74.15 20.80 L74.29 20.58 L74.43 20.35 L74.57 20.13 L74.71 19.91 L74.85 19.70 L75.00 19.49 L75.14 19.28 L75.28 19.07 L75.42 18.87 L75.56 18.66 L75.70 18.46 L75.84 18.27 L75.98 18.07 L76.13 17.88 L76.27 17.69 L76.41 17.50 L76.55 17.32 L76.69 17.14 L76.83 16.96 L76.97 16.78 L77.11 16.60 L77.26 16.43 L77.40 16.26 L77.54 16.09 L77.68 15.92 L78.85 14.63 L80.03 13.48 L81.20 12.46 L82.38 11.57 L83.55 10.79 L84.72 10.13 L85.90 9.57 L87.07 9.10 L88.25 8.72 L89.42 8.43 L90.59 8.21 L91.77 8.07 L92.94 7.99 L94.12 7.98 L95.29 8.03 L96.46 8.14 L97.64 8.29 L98.81 8.50 L99.99 8.75 L101.16 9.04 L102.33 9.38 L103.51 9.75 L104.68 10.16 L105.86 10.60 L107.03 11.07 L108.20 11.57 L109.38 12.09 L110.55 12.64 L111.73 13.22 L112.90 13.82 L114.07 14.43 L115.25 15.07 L116.42 15.72 L117.60 16.40 L118.77 17.08 L119.94 17.79 L121.12 18.50 L122.29 19.23 L123.47 19.97 L124.64 20.72 L125.81 21.48 L126.99 22.25 L128.16 23.03 L129.33 23.82 L130.51 24.61 L131.68 25.41 L132.86 26.22 L134.03 27.03 L135.20 27.85 L136.38 28.67 L137.55 29.50 L138.73 30.33 L139.90 31.16 L141.07 32.00 L142.25 32.84 L143.42 33.68 L144.60 34.53 L145.77 35.37 L146.94 36.22 L148.12 37.07 L149.29 37.91 L150.47 38.76 L151.64 39.61 L152.81 40.46 L153.99 41.31 L155.16 42.16 L156.34 43.00 L157.51 43.85 L158.68 44.70 L159.86 45.54 L161.03 46.38 L162.21 47.23 L163.38 48.07 L164.55 48.91 L165.73 49.74 L166.90 50.58 L168.08 51.41 L169.25 52.24 L170.42 53.07 L171.60 53.89 L172.77 54.71 L173.95 55.53 L175.12 56.35 L176.29 57.17 L177.47 57.98 L178.64 58.79 L179.82 59.59 L180.99 60.39 L182.16 61.19 L183.34 61.99 L184.51 62.78 L185.69 63.57 L186.86 64.36 L188.03 65.14 L189.21 65.92 L190.38 66.69 L191.56 67.47 L192.73 68.23 L193.90 69.00 L195.08 69.76 L196.25 70.52 L197.43 71.27 L198.60 72.02 L199.77 72.77 L200.95 73.51 L202.12 74.25 L203.30 74.99 L204.47 75.72 L205.64 76.45 L206.82 77.17 L207.99 77.89 L209.17 78.61 L210.34 79.32 L211.51 80.03 L212.69 80.73 L213.86 81.43 L215.04 82.13 L216.21 82.82 L217.38 83.51 L218.56 84.20 L219.73 84.88 L220.91 85.56 L222.08 86.23 L223.25 86.90 L224.43 87.57 L225.60 88.23 L226.77 88.89 L227.95 89.54 L229.12 90.19 L230.30 90.84 L231.47 91.48 L232.64 92.12 L233.82 92.76 L234.99 93.39 L236.17 94.02 L237.34 94.64 L238.51 95.26 L239.69 95.88 L240.86 96.50 L242.04 97.11 L243.21 97.71 L244.38 98.31 L245.56 98.91 L246.73 99.51 L247.91 100.10 L249.08 100.69 L250.25 101.27 L251.43 101.85 L252.60 102.43 L253.78 103.00 L254.95 103.58 L256.12 104.14 L257.30 104.71 L258.47 105.27 L259.65 105.82 L260.82 106.37 L261.99 106.92 L263.17 107.47 L264.34 108.01 L265.52 108.55 L266.69 109.09 L267.86 109.62 L269.04 110.15 L270.21 110.68 L271.39 111.20 L272.56 111.72 L273.73 112.24 L274.91 112.75 L276.08 113.26 L277.26 113.77 L278.43 114.27 L279.60 114.77 L280.78 115.27 L281.95 115.77 L283.13 116.26 L284.30 116.75 L285.47 117.23 L286.65 117.71 L287.82 118.19 L289.00 118.67 L290.17 119.14 L291.34 119.61 L292.52 120.08 L293.69 120.55 L294.87 121.01 L296.04 121.47 L297.21 121.92 L298.39 122.38 L299.56 122.83 L300.74 123.28 L301.91 123.72 L303.08 124.16 L304.26 124.60 L305.43 125.04 L306.61 125.47 L307.78 125.90 L308.95 126.33 L310.13 126.76 L311.30 127.18 L312.48 127.60 L313.65 128.02 L314.82 128.44 L316.00 128.85 L317.17 129.26 L318.35 129.67 L319.52 130.07 L320.69 130.48 L321.87 130.88 L323.04 131.27 L324.21 131.67 L325.39 132.06 L326.56 132.45 L327.74 132.84 L328.91 133.23 L330.08 133.61 L331.26 133.99 L332.43 134.37 L333.61 134.75 L334.78 135.12 L335.95 135.49 L337.13 135.86 L338.30 136.23 L339.48 136.60 L340.65 136.96 L341.82 137.32 L343.00 137.68 L344.17 138.04 L345.35 138.39 L346.52 138.74 L347.69 139.09 L348.87 139.44 L350.04 139.79 L351.22 140.13 L352.39 140.47 L353.56 140.81 L354.74 141.15 L355.91 141.48 L357.09 141.82 L358.26 142.15 L359.43 142.48 L360.61 142.81 L361.78 143.13 L362.96 143.46 L364.13 143.78 L365.30 144.10 L366.48 144.42 L367.65 144.73 L368.83 145.05 L370.00 145.36" fill="none" stroke="#800080" stroke-width="2.3"/>
</g>

<text x="206.3" y="296.8" text-anchor="middle">r</text>
<text transform="translate(7.7,132.6) rotate(-90)" text-anchor="middle" font-size="10.9"><tspan font-style="italic">ρ</tspan>(r)+<tspan font-style="italic">P</tspan><tspan font-style="italic" font-size="7.5" dy="2.8">r</tspan><tspan dy="-2.8">(r)</tspan></text>
</svg>
</body></html>
